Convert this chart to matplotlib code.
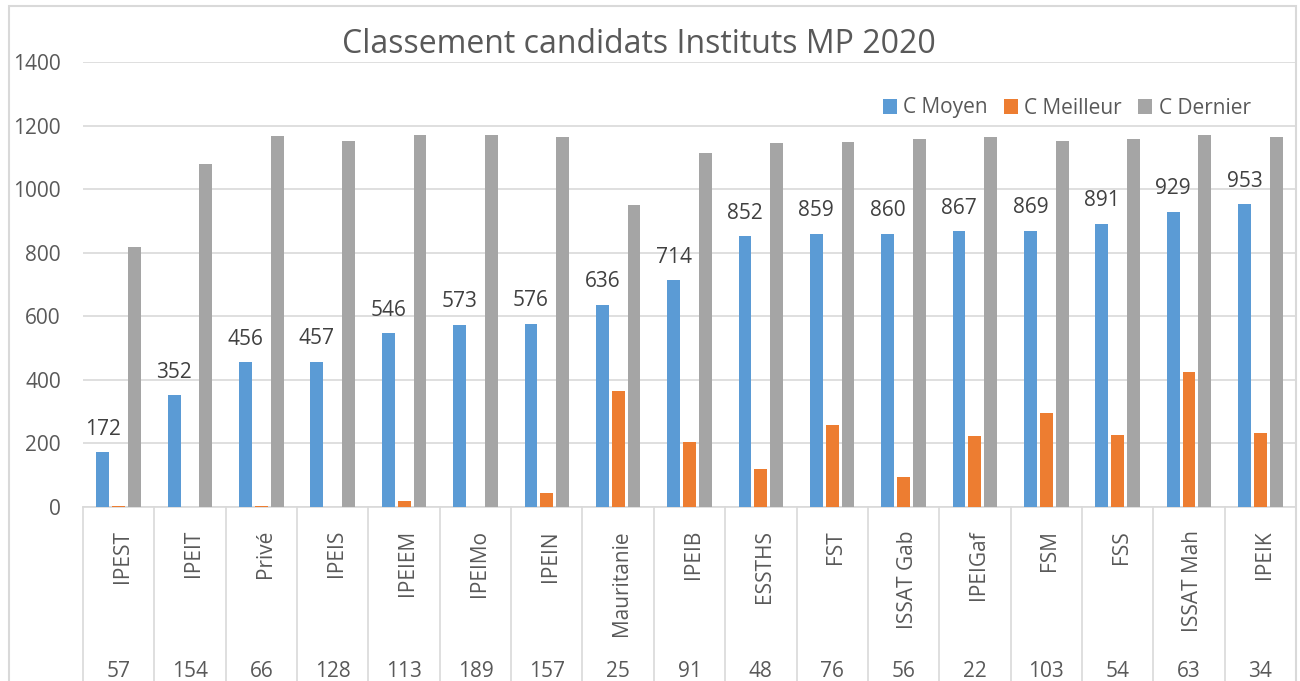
import matplotlib.pyplot as plt
import matplotlib.transforms as mtransforms
from matplotlib.patches import Rectangle
import numpy as np

plt.rcParams['font.family'] = ['Open Sans', 'DejaVu Sans']

######## data ########
instituts = ['IPEST', 'IPEIT', 'Privé', 'IPEIS', 'IPEIEM', 'IPEIMo', 'IPEIN', 'Mauritanie', 'IPEIB',
             'ESSTHS', 'FST', 'ISSAT Gab', 'IPEIGaf', 'FSM', 'FSS', 'ISSAT Mah', 'IPEIK']
nb_candidats = [57, 154, 66, 128, 113, 189, 157, 25, 91, 48, 76, 56, 22, 103, 54, 63, 34]
c_moyen = [172, 352, 456, 457, 546, 573, 576, 636, 714, 852, 859, 860, 867, 869, 891, 929, 953]
c_meilleur = [2, 1, 3, 1, 19, 1, 43, 366, 203, 120, 259, 95, 224, 295, 227, 425, 232]
c_dernier = [817, 1078, 1166, 1153, 1169, 1170, 1163, 951, 1113, 1146, 1148, 1159, 1165, 1152, 1158, 1170, 1164]

blue = '#5B9BD5'; orange = '#ED7D31'; gray = '#A5A5A5'
txt = '#595959'; grid = '#D9D9D9'

W, H = 1300, 681
fig = plt.figure(figsize=(W / 100, H / 100), dpi=100)
ax = fig.add_axes([83 / W, 1 - 507 / H, (1296 - 83) / W, (507 - 62) / H])

x = np.arange(len(instituts))
bw = 0.18
step = 0.222
b1 = ax.bar(x - step, c_moyen, bw, color=blue, label='C Moyen', zorder=3)
ax.bar(x, c_meilleur, bw, color=orange, label='C Meilleur', zorder=3)
ax.bar(x + step, c_dernier, bw, color=gray, label='C Dernier', zorder=3)
ax.bar_label(b1, padding=9, fontsize=15, color='#404040')

######## axes ########
ax.set_xlim(-0.5, len(instituts) - 0.5)
ax.set_ylim(0, 1400)
ax.set_yticks(range(0, 1401, 200))
ax.tick_params(axis='y', length=0, pad=16, labelsize=15, labelcolor=txt)
ax.set_xticks([])
ax.yaxis.grid(True, color=grid, linewidth=1.2, zorder=0)
ax.set_axisbelow(True)
for s in ['left', 'right', 'top']:
    ax.spines[s].set_visible(False)
ax.spines['bottom'].set_color(grid)
ax.spines['bottom'].set_linewidth(1.2)

######## category axis (two levels) ########
tr = ax.get_xaxis_transform()
for k in range(len(instituts) + 1):
    ax.plot([k - 0.5, k - 0.5], [0, -0.5], color=grid, linewidth=1.2, transform=tr, clip_on=False)
off = mtransforms.offset_copy(tr, fig=fig, x=9.2, y=0, units='dots')
for i, name in enumerate(instituts):
    ax.text(i, -0.0517, name, transform=off, rotation=90, rotation_mode='anchor',
            ha='right', va='baseline', fontsize=15, color=txt)
    ax.text(i, -0.3813, str(nb_candidats[i]), transform=tr, ha='center', va='baseline',
            fontsize=15, color=txt)

######## title / legend / frame ########
fig.text(638.75 / W, 1 - 53.3 / H, 'Classement candidats Instituts MP 2020', ha='center',
         va='baseline', fontsize=23, color=txt)
fig.legend(loc='center right', bbox_to_anchor=(1261 / W, 1 - 108 / H), ncol=3, frameon=False,
           fontsize=15, handlelength=0.7, handleheight=0.7, handletextpad=0.3,
           columnspacing=0.75, borderpad=0, labelcolor=txt)
fig.patches.append(Rectangle((8.5 / W, -0.05), (1296 - 8.5) / W, 1.05 - 6.5 / H, fill=False,
                             edgecolor=grid, linewidth=1.5, transform=fig.transFigure))

fig.savefig('out.png', dpi=100)
